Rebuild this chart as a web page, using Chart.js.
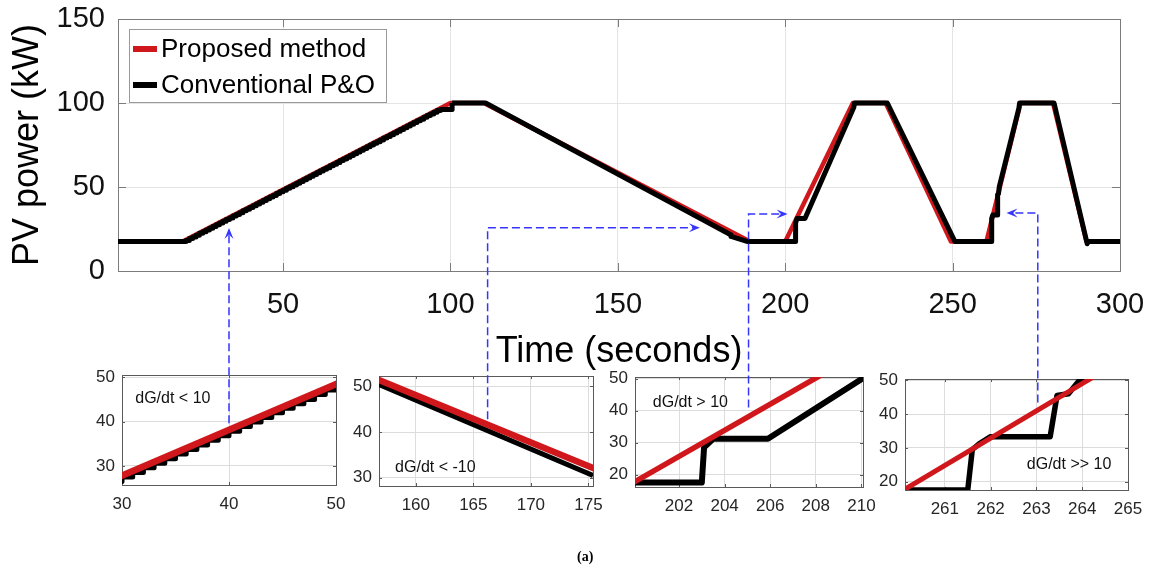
<!DOCTYPE html>
<html>
<head>
<meta charset="utf-8">
<script src="https://cdn.jsdelivr.net/npm/chart.js@4.4.1/dist/chart.umd.min.js"></script>
<style>
  html,body{margin:0;padding:0;background:#fff;}
  body{width:1153px;height:571px;overflow:hidden;position:relative;font-family:"Liberation Sans",Arial,sans-serif;}
  canvas{position:absolute;}
  #overlay{pointer-events:none;}
  #caption{position:absolute;left:577px;top:549px;font-family:"Liberation Serif","Times New Roman",serif;font-weight:bold;font-size:14px;color:#000;}
</style>
</head>
<body>
<canvas id="main" width="1153" height="571" style="left:0px;top:0px"></canvas>
<canvas id="in1"></canvas>
<canvas id="in2"></canvas>
<canvas id="in3"></canvas>
<canvas id="in4"></canvas>
<canvas id="overlay" width="1153" height="571" style="left:0px;top:0px"></canvas>
<div id="caption">(a)</div>
<script>
// ---------------- DATA ----------------
const seriesNames = ['Proposed method', 'Conventional P&O'];

// Proposed method (red): time (s) and PV power (kW)
const redT = [0.7, 20, 100, 110, 189.5, 200, 220.2, 230, 249.5, 260.1, 270.3, 280, 290, 300];
const redP = [17.5, 17.5, 100, 100, 17.5, 17.5, 100, 100, 17.5, 17.5, 100, 100, 17.5, 17.5];

// Conventional P&O (black): staircase on the first ramp
const stairT = [0.7, 20, 21, 22, 23, 24, 25, 26, 27, 28, 29, 30, 31, 32, 33, 34, 35, 36, 37, 38, 39, 40,
  41, 42, 43, 44, 45, 46, 47, 48, 49, 50, 51, 52, 53, 54, 55, 56, 57, 58, 59, 60,
  61, 62, 63, 64, 65, 66, 67, 68, 69, 70, 71, 72, 73, 74, 75, 76, 77, 78, 79, 80,
  81, 82, 83, 84, 85, 86, 87, 88, 89, 90, 91, 92, 93, 94, 95, 96, 97, 100.5];
const stairP = [17.5, 17.5, 18.2, 19.3, 20.3, 21.3, 22.4, 23.4, 24.4, 25.5, 26.5, 27.5,
  28.5, 29.6, 30.6, 31.6, 32.7, 33.7, 34.7, 35.8, 36.8, 37.8,
  38.9, 39.9, 40.9, 42.0, 43.0, 44.0, 45.0, 46.1, 47.1, 48.1,
  49.2, 50.2, 51.2, 52.3, 53.3, 54.3, 55.4, 56.4, 57.4, 58.5,
  59.5, 60.5, 61.5, 62.6, 63.6, 64.6, 65.7, 66.7, 67.7, 68.8,
  69.8, 70.8, 71.9, 72.9, 73.9, 75.0, 76.0, 77.0, 78.0, 79.1,
  80.1, 81.1, 82.2, 83.2, 84.2, 85.3, 86.3, 87.3, 88.4, 89.4,
  90.4, 91.5, 92.5, 93.5, 94.5, 95.6, 96.2, 100];
// Conventional P&O (black): rest of the profile
const blackT = [100.5, 110.5, 175.4, 183.7, 183.8, 188.8, 203.0, 203.1, 203.5, 205.9, 220.5, 220.7, 230.5, 250.7,
  261.5, 261.6, 261.75, 262.0, 263.3, 263.45, 263.7, 263.95, 269.8, 270.0, 280.3, 290.2, 290.5, 300];
const blackP = [100, 100, 30.5, 21.6, 20.6, 17.5, 17.5, 28.5, 31.2, 31.2, 97.5, 100, 100, 17.5,
  17.5, 29.5, 31.2, 33.3, 33.3, 45.5, 46.0, 50.2, 97, 100, 100, 16.2, 17.5, 17.5];

// Tick labels
const mainXTicks = [50, 100, 150, 200, 250, 300];
const mainYTicks = [0, 50, 100, 150];
const in1XTicks = [30, 40, 50],            in1YTicks = [30, 40, 50];
const in2XTicks = [160, 165, 170, 175],    in2YTicks = [30, 40, 50];
const in3XTicks = [202, 204, 206, 208, 210], in3YTicks = [20, 30, 40, 50];
const in4XTicks = [261, 262, 263, 264, 265], in4YTicks = [20, 30, 40, 50];
const insetNotes = ['dG/dt < 10', 'dG/dt < -10', 'dG/dt > 10', 'dG/dt >> 10'];

// ---------------- LAYOUT / STYLE ----------------
const RED = '#d0181c', BLACK = '#000000', BLUE = '#3535ff';
const insetLayout = [
  {id:'in1', L:122, T:375, R:336, B:485, xr:[30,50],        yr:[25.7,50.5], xt:in1XTicks, yt:in1YTicks, note:[31.24,45.1], redW:6.5, blkW:5},
  {id:'in2', L:379, T:376, R:593, B:486, xr:[156.8,175.4],  yr:[28.2,52.3], xt:in2XTicks, yt:in2YTicks, note:[158.2,32.3], redW:6.5, blkW:5},
  {id:'in3', L:635, T:377, R:863, B:487, xr:[200.07,210.07],yr:[16.1,50.5], xt:in3XTicks, yt:in3YTicks, note:[200.85,42.6], redW:5.5, blkW:6},
  {id:'in4', L:905, T:379, R:1128,B:490, xr:[260.13,265],   yr:[17.5,50.4], xt:in4XTicks, yt:in4YTicks, note:[262.79,24.9], redW:5, blkW:5.5}
];
// arrows: start point in an inset (data units), go up to main y value, then optionally horizontally to main x value
const arrowLinks = [
  {from:'in1', x:40,     y:39.6, toY:25.6, toX:null},
  {from:'in2', x:166.24, y:42.8, toY:25.8, toX:174.5},
  {from:'in3', x:205.05, y:41.0, toY:33.9, toX:200.7},
  {from:'in4', x:263.03, y:43.4, toY:34.5, toX:266.1}
];

const deco = {};
const pts = (T, P) => T.map((t, i) => ({x: t, y: P[i]}));
const noPad = s => { s.paddingTop = 0; s.paddingBottom = 0; s.paddingLeft = 0; s.paddingRight = 0; };

const boxPlugin = {
  id: 'axbox',
  beforeDatasetsDraw(chart) {
    const d = deco[chart.canvas.id]; if (!d) return;
    const {ctx, chartArea: a, scales: {x, y}} = chart;
    ctx.save();
    ctx.strokeStyle = d.boxColor; ctx.lineWidth = 1;
    ctx.beginPath();
    for (const t of x.ticks) {
      const px = Math.round(x.getPixelForValue(t.value)) + 0.5;
      ctx.moveTo(px, a.bottom); ctx.lineTo(px, a.bottom - d.tick);
      ctx.moveTo(px, a.top); ctx.lineTo(px, a.top + d.tick);
    }
    for (const t of y.ticks) {
      const py = Math.round(y.getPixelForValue(t.value)) + 0.5;
      ctx.moveTo(a.left, py); ctx.lineTo(a.left + d.tick, py);
      ctx.moveTo(a.right, py); ctx.lineTo(a.right - d.tick, py);
    }
    ctx.stroke();
    ctx.strokeRect(Math.round(a.left) + 0.5, Math.round(a.top) + 0.5, Math.round(a.right - a.left), Math.round(a.bottom - a.top));
    ctx.restore();
  }
};

const legendPlugin = {
  id: 'boxLegend',
  afterDraw(chart) {
    const d = deco[chart.canvas.id]; if (!d || !d.legend) return;
    const {ctx, chartArea: a} = chart;
    const x = Math.round(a.left) + 11, y = Math.round(a.top) + 10, w = 257, h = 73;
    ctx.save();
    ctx.fillStyle = '#fff'; ctx.fillRect(x, y, w, h);
    ctx.strokeStyle = '#9a9a9a'; ctx.lineWidth = 1; ctx.strokeRect(x + 0.5, y + 0.5, w, h);
    const rows = [20, 56];
    d.legend.forEach((it, i) => {
      const yy = y + rows[i];
      ctx.strokeStyle = it.color; ctx.lineWidth = 6; ctx.lineCap = 'butt';
      ctx.beginPath(); ctx.moveTo(x + 4, yy); ctx.lineTo(x + 28, yy); ctx.stroke();
      ctx.fillStyle = '#000'; ctx.font = '26px "Liberation Sans", Arial, sans-serif';
      ctx.textBaseline = 'middle'; ctx.textAlign = 'left';
      ctx.fillText(it.label, x + 32, yy + 1);
    });
    ctx.restore();
  }
};

const notesPlugin = {
  id: 'notes',
  afterDraw(chart) {
    const d = deco[chart.canvas.id]; if (!d || !d.note) return;
    const {ctx, scales: {x, y}} = chart;
    ctx.save();
    ctx.fillStyle = '#111'; ctx.font = '16px "Liberation Sans", Arial, sans-serif';
    ctx.textBaseline = 'middle'; ctx.textAlign = 'left';
    ctx.fillText(d.note.text, x.getPixelForValue(d.note.x), y.getPixelForValue(d.note.y));
    ctx.restore();
  }
};

function lineDs(label, data, color, width, order, stepped) {
  return {label, data, borderColor: color, backgroundColor: color, borderWidth: width,
    pointRadius: 0, tension: 0, order, stepped: !!stepped, fill: false,
    borderJoinStyle: 'round', borderCapStyle: 'butt'};
}

const charts = {};

// ---------------- MAIN CHART ----------------
(function () {
  const cv = document.getElementById('main');
  deco.main = {boxColor: '#7c7c7c', tick: 8,
    legend: [{label: seriesNames[0], color: RED}, {label: seriesNames[1], color: BLACK}]};
  const font = {family: '"Liberation Sans", Arial, sans-serif', size: 29};
  charts.main = new Chart(cv, {
    type: 'line',
    data: {datasets: [
      lineDs(seriesNames[1], pts(stairT, stairP), BLACK, 5, 0, true),
      lineDs(seriesNames[1], pts(blackT, blackP), BLACK, 5, 0, false),
      lineDs(seriesNames[0], pts(redT, redP), RED, 4.5, 1, false)
    ]},
    options: {
      responsive: false, animation: false, events: [],
      layout: {padding: {left: 0, top: 19, right: 33, bottom: 200}},
      plugins: {legend: {display: false}, tooltip: {enabled: false}},
      scales: {
        x: {type: 'linear', min: 0.7, max: 300,
          afterBuildTicks: s => { s.ticks = mainXTicks.map(v => ({value: v})); },
          afterFit: s => { s.height = 100; noPad(s); },
          ticks: {font, color: '#111', padding: 17, maxRotation: 0, autoSkip: false},
          grid: {color: '#e4e4e4', drawTicks: false}, border: {display: false},
          title: {display: true, text: 'Time (seconds)', color: '#000',
            font: {family: font.family, size: 36}, padding: {top: 0, bottom: -3}}
        },
        y: {type: 'linear', min: 0, max: 150,
          afterBuildTicks: s => { s.ticks = mainYTicks.map(v => ({value: v})); },
          afterFit: s => { s.width = 118; noPad(s); },
          ticks: {font, color: '#111', padding: 13, autoSkip: false},
          grid: {color: '#e4e4e4', drawTicks: false}, border: {display: false},
          title: {display: true, text: 'PV power (kW)', color: '#000',
            font: {family: font.family, size: 36}, padding: {top: 6, bottom: 0}}
        }
      }
    },
    plugins: [boxPlugin, legendPlugin]
  });
})();

// ---------------- INSETS ----------------
insetLayout.forEach((c, i) => {
  const cv = document.getElementById(c.id);
  const padL = 45, padT = 12, padR = 22, xH = 40;
  const w = (c.R - c.L) + padL + padR, h = (c.B - c.T) + padT + xH;
  cv.width = w; cv.height = h;
  cv.style.left = (c.L - padL) + 'px'; cv.style.top = (c.T - padT) + 'px';
  deco[c.id] = {boxColor: '#5a5a5a', tick: 3, note: {text: insetNotes[i], x: c.note[0], y: c.note[1]}};
  const font = {family: '"Liberation Sans", Arial, sans-serif', size: 17};
  charts[c.id] = new Chart(cv, {
    type: 'line',
    data: {datasets: [
      lineDs(seriesNames[0], pts(redT, redP), RED, c.redW, 0, false),
      lineDs(seriesNames[1], pts(stairT, stairP), BLACK, c.blkW, 1, true),
      lineDs(seriesNames[1], pts(blackT, blackP), BLACK, c.blkW, 1, false)
    ]},
    options: {
      responsive: false, animation: false, events: [],
      layout: {padding: {left: 0, top: padT, right: padR, bottom: 0}},
      plugins: {legend: {display: false}, tooltip: {enabled: false}},
      scales: {
        x: {type: 'linear', min: c.xr[0], max: c.xr[1],
          afterBuildTicks: s => { s.ticks = c.xt.map(v => ({value: v})); },
          afterFit: s => { s.height = xH; noPad(s); },
          ticks: {font, color: '#262626', padding: 9, maxRotation: 0, autoSkip: false},
          grid: {color: '#dcdcdc', drawTicks: false}, border: {display: false}
        },
        y: {type: 'linear', min: c.yr[0], max: c.yr[1],
          afterBuildTicks: s => { s.ticks = c.yt.map(v => ({value: v})); },
          afterFit: s => { s.width = padL; noPad(s); },
          ticks: {font, color: '#262626', padding: 7, autoSkip: false},
          grid: {color: '#dcdcdc', drawTicks: false}, border: {display: false}
        }
      }
    },
    plugins: [boxPlugin, notesPlugin]
  });
});

// ---------------- ARROWS (overlay) ----------------
(function drawArrows() {
  const ctx = document.getElementById('overlay').getContext('2d');
  const m = charts.main;
  ctx.strokeStyle = BLUE; ctx.fillStyle = BLUE; ctx.lineWidth = 1.5;
  arrowLinks.forEach(a => {
    const ch = charts[a.from];
    const ox = parseFloat(ch.canvas.style.left), oy = parseFloat(ch.canvas.style.top);
    const x0 = ox + ch.scales.x.getPixelForValue(a.x);
    const y0 = oy + ch.scales.y.getPixelForValue(a.y);
    const y1 = m.scales.y.getPixelForValue(a.toY);
    const P = [[x0, y0], [x0, y1]];
    if (a.toX !== null) P.push([m.scales.x.getPixelForValue(a.toX), y1]);
    const tip = P[P.length - 1], prev = P[P.length - 2];
    let dx = tip[0] - prev[0], dy = tip[1] - prev[1];
    const len = Math.hypot(dx, dy); dx /= len; dy /= len;
    const L = 11, W = 4.5;
    const end = [tip[0] - dx * L * 0.6, tip[1] - dy * L * 0.6];
    ctx.save();
    ctx.setLineDash([8, 4]);
    ctx.beginPath();
    ctx.moveTo(P[0][0], P[0][1]);
    for (let k = 1; k < P.length - 1; k++) ctx.lineTo(P[k][0], P[k][1]);
    ctx.lineTo(end[0], end[1]);
    ctx.stroke();
    ctx.restore();
    const nx = -dy, ny = dx;
    ctx.beginPath();
    ctx.moveTo(tip[0], tip[1]);
    ctx.lineTo(tip[0] - dx * L + nx * W, tip[1] - dy * L + ny * W);
    ctx.lineTo(tip[0] - dx * L * 0.6, tip[1] - dy * L * 0.6);
    ctx.lineTo(tip[0] - dx * L - nx * W, tip[1] - dy * L - ny * W);
    ctx.closePath();
    ctx.fill();
  });
})();
</script>
</body>
</html>
